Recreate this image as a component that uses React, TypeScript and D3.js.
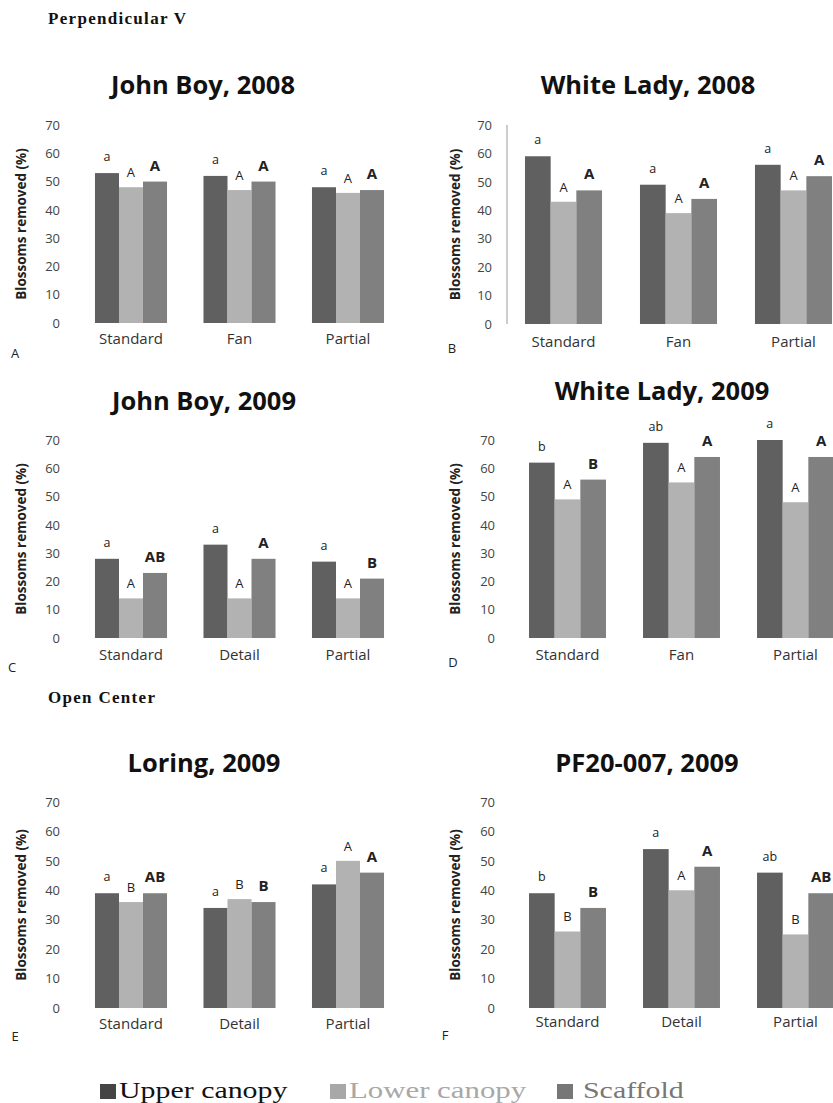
import React from "react";
import * as d3 from "d3";

const seriesNames = ["Upper canopy", "Lower canopy", "Scaffold"];
const seriesColors = ["#606060", "#b2b2b2", "#808080"];
const yTicks = [0, 10, 20, 30, 40, 50, 60, 70];

const catsFan = ["Standard", "Fan", "Partial"];
const catsDetail = ["Standard", "Detail", "Partial"];

// A: John Boy, 2008
const jb08Upper = [53, 52, 48];
const jb08Lower = [48, 47, 46];
const jb08Scaffold = [50, 50, 47];
const jb08LetUpper = ["a", "a", "a"];
const jb08LetLower = ["A", "A", "A"];
const jb08LetScaffold = ["A", "A", "A"];

// B: White Lady, 2008
const wl08Upper = [59, 49, 56];
const wl08Lower = [43, 39, 47];
const wl08Scaffold = [47, 44, 52];
const wl08LetUpper = ["a", "a", "a"];
const wl08LetLower = ["A", "A", "A"];
const wl08LetScaffold = ["A", "A", "A"];

// C: John Boy, 2009
const jb09Upper = [28, 33, 27];
const jb09Lower = [14, 14, 14];
const jb09Scaffold = [23, 28, 21];
const jb09LetUpper = ["a", "a", "a"];
const jb09LetLower = ["A", "A", "A"];
const jb09LetScaffold = ["AB", "A", "B"];

// D: White Lady, 2009
const wl09Upper = [62, 69, 70];
const wl09Lower = [49, 55, 48];
const wl09Scaffold = [56, 64, 64];
const wl09LetUpper = ["b", "ab", "a"];
const wl09LetLower = ["A", "A", "A"];
const wl09LetScaffold = ["B", "A", "A"];

// E: Loring, 2009
const lo09Upper = [39, 34, 42];
const lo09Lower = [36, 37, 50];
const lo09Scaffold = [39, 36, 46];
const lo09LetUpper = ["a", "a", "a"];
const lo09LetLower = ["B", "B", "A"];
const lo09LetScaffold = ["AB", "B", "A"];

// F: PF20-007, 2009
const pf09Upper = [39, 54, 46];
const pf09Lower = [26, 40, 25];
const pf09Scaffold = [34, 48, 39];
const pf09LetUpper = ["b", "a", "ab"];
const pf09LetLower = ["B", "A", "B"];
const pf09LetScaffold = ["B", "A", "AB"];

type Panel = {
  title: string;
  letter: string;
  cats: string[];
  values: number[][];
  letters: string[][];
  xr: [number, number];
  yr: [number, number];
  pi: number;
  titleX: number;
  titleY: number;
  tickX: number;
  yTitleX: number;
  catY: number;
  letterPos: [number, number];
  axisLine?: boolean;
};

const panels: Panel[] = [
  {
    title: "John Boy, 2008", letter: "A", cats: catsFan,
    values: [jb08Upper, jb08Lower, jb08Scaffold],
    letters: [jb08LetUpper, jb08LetLower, jb08LetScaffold],
    xr: [76.75, 402.25], yr: [323, 125], pi: 0.336,
    titleX: 203, titleY: 94, tickX: 60, yTitleX: 26, catY: 344, letterPos: [15, 358],
  },
  {
    title: "White Lady, 2008", letter: "B", cats: catsFan,
    values: [wl08Upper, wl08Lower, wl08Scaffold],
    letters: [wl08LetUpper, wl08LetLower, wl08LetScaffold],
    xr: [506, 851], yr: [324, 125], pi: 0.33,
    titleX: 648, titleY: 94, tickX: 492, yTitleX: 460, catY: 347, letterPos: [452, 353],
    axisLine: true,
  },
  {
    title: "John Boy, 2009", letter: "C", cats: catsDetail,
    values: [jb09Upper, jb09Lower, jb09Scaffold],
    letters: [jb09LetUpper, jb09LetLower, jb09LetScaffold],
    xr: [76.75, 402.25], yr: [638, 440], pi: 0.336,
    titleX: 204, titleY: 410, tickX: 60, yTitleX: 26, catY: 660, letterPos: [12, 672],
  },
  {
    title: "White Lady, 2009", letter: "D", cats: catsFan,
    values: [wl09Upper, wl09Lower, wl09Scaffold],
    letters: [wl09LetUpper, wl09LetLower, wl09LetScaffold],
    xr: [510.5, 852.5], yr: [638, 440], pi: 0.325,
    titleX: 662, titleY: 400, tickX: 495, yTitleX: 460, catY: 660, letterPos: [453, 667],
  },
  {
    title: "Loring, 2009", letter: "E", cats: catsDetail,
    values: [lo09Upper, lo09Lower, lo09Scaffold],
    letters: [lo09LetUpper, lo09LetLower, lo09LetScaffold],
    xr: [76.75, 402.25], yr: [1008, 802], pi: 0.336,
    titleX: 204, titleY: 772, tickX: 60, yTitleX: 26, catY: 1029, letterPos: [15, 1041],
  },
  {
    title: "PF20-007, 2009", letter: "F", cats: catsDetail,
    values: [pf09Upper, pf09Lower, pf09Scaffold],
    letters: [pf09LetUpper, pf09LetLower, pf09LetScaffold],
    xr: [510.5, 852.5], yr: [1008, 802], pi: 0.325,
    titleX: 647, titleY: 772, tickX: 495, yTitleX: 460, catY: 1027, letterPos: [445, 1040],
  },
];

const SANS = "'Open Sans', 'DejaVu Sans', sans-serif";
const SERIF = "'Liberation Serif', 'DejaVu Serif', serif";

function ChartPanel({ p }: { p: Panel }) {
  const x = d3.scaleBand<string>().domain(p.cats).range(p.xr).paddingInner(p.pi).paddingOuter(p.pi / 2);
  const xs = d3.scaleBand<string>().domain(seriesNames).range([0, x.bandwidth()]);
  const y = d3.scaleLinear().domain([0, 70]).range(p.yr);
  const letterStyle = [
    { size: 12.5, weight: 400, off: 12 },
    { size: 13, weight: 400, off: 10 },
    { size: 15, weight: 700, off: 11 },
  ];
  const midY = (p.yr[0] + p.yr[1]) / 2;
  return (
    <g>
      <text x={p.titleX} y={p.titleY} textAnchor="middle" fontFamily={SANS} fontWeight={700} fontSize={25.5} fill="#111">
        {p.title}
      </text>
      {p.axisLine && (
        <line x1={p.xr[0] + 1} x2={p.xr[0] + 1} y1={y(70)} y2={y(0)} stroke="#9a9a9a" strokeWidth={1} />
      )}
      {yTicks.map((t) => (
        <text key={t} x={p.tickX} y={y(t)} dy="0.36em" textAnchor="end" fontFamily={SANS} fontSize={13} fill="#444">
          {t}
        </text>
      ))}
      <text
        transform={`translate(${p.yTitleX},${midY}) rotate(-90)`}
        textAnchor="middle"
        fontFamily={SANS}
        fontWeight={700}
        fontSize={13.5}
        fill="#222"
      >
        Blossoms removed (%)
      </text>
      {p.cats.map((c, ci) => (
        <g key={c} transform={`translate(${x(c)},0)`}>
          {seriesNames.map((s, si) => {
            const v = p.values[si][ci];
            const bx = xs(s) as number;
            return (
              <g key={s}>
                <rect x={bx} y={y(v)} width={xs.bandwidth()} height={y(0) - y(v)} fill={seriesColors[si]} />
                <text
                  x={bx + xs.bandwidth() / 2}
                  y={y(v) - letterStyle[si].off}
                  textAnchor="middle"
                  fontFamily={SANS}
                  fontSize={letterStyle[si].size}
                  fontWeight={letterStyle[si].weight}
                  fill="#222"
                >
                  {p.letters[si][ci]}
                </text>
              </g>
            );
          })}
          <text x={x.bandwidth() / 2} y={p.catY} textAnchor="middle" fontFamily={SANS} fontSize={15} fill="#333">
            {c}
          </text>
        </g>
      ))}
      <text x={p.letterPos[0]} y={p.letterPos[1]} textAnchor="middle" fontFamily={SANS} fontSize={13} fill="#222">
        {p.letter}
      </text>
    </g>
  );
}

const legendX = [100, 330, 557];
const legendTextX = [119, 349, 583];
const legendScale = [1.3, 1.34, 1.3];
const legendTextColors = ["#111", "#a8a8a8", "#777"];
const legendSquareColors = ["#454545", "#a8a8a8", "#777"];

export default function App() {
  return (
    <svg
      width={833}
      height={1103}
      style={{ position: "absolute", left: 0, top: 0, background: "#fff" }}
    >
      <rect x={0} y={0} width={833} height={1103} fill="#fff" />
      <text x={48} y={24} fontFamily={SERIF} fontWeight={700} fontSize={17} letterSpacing={1.3} fill="#111">
        Perpendicular V
      </text>
      <text x={48} y={703} fontFamily={SERIF} fontWeight={700} fontSize={17} letterSpacing={1.3} fill="#111">
        Open Center
      </text>
      {panels.map((p) => (
        <ChartPanel key={p.letter} p={p} />
      ))}
      {seriesNames.map((s, i) => (
        <g key={s}>
          <rect x={legendX[i]} y={1084} width={16} height={15} fill={legendSquareColors[i]} />
          <text
            transform={`translate(${legendTextX[i]},1098) scale(${legendScale[i]},1)`}
            fontFamily={SERIF}
            fontSize={23}
            fill={legendTextColors[i]}
          >
            {s}
          </text>
        </g>
      ))}
    </svg>
  );
}
